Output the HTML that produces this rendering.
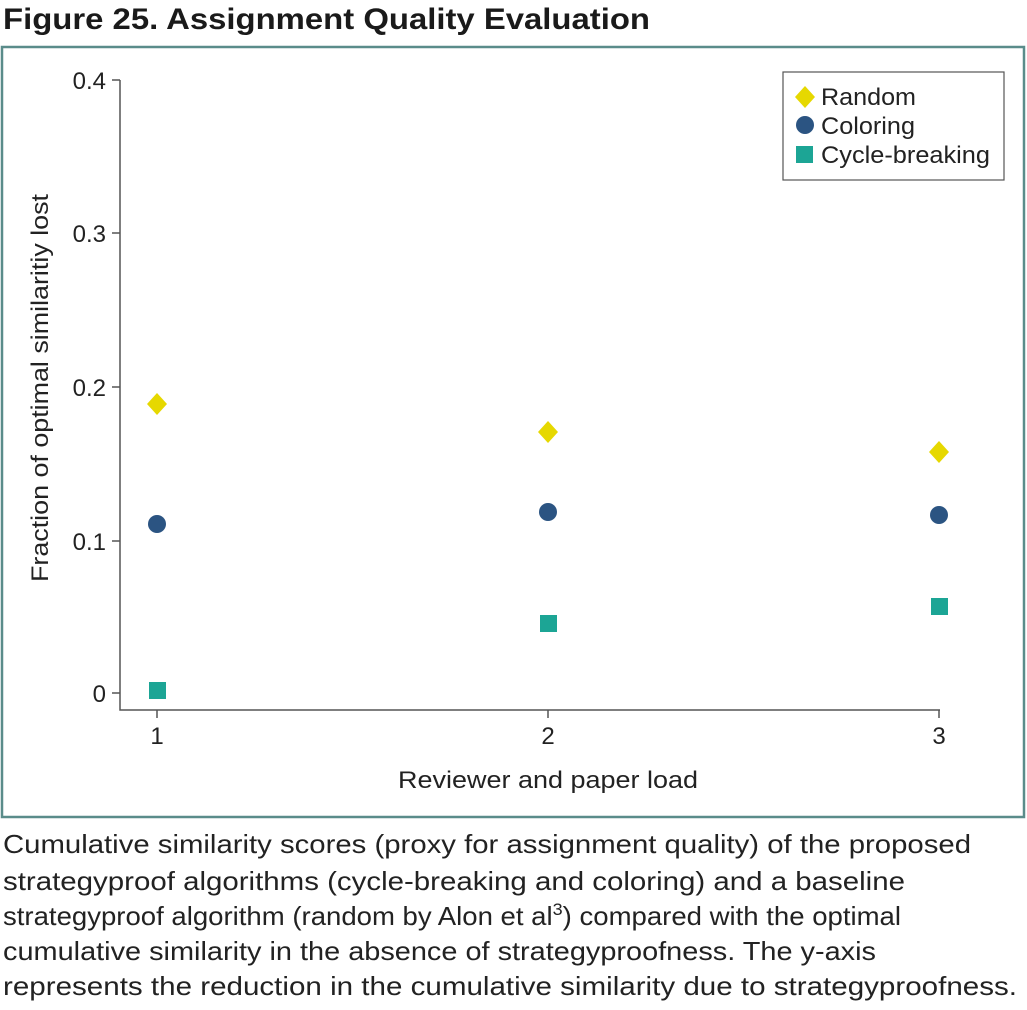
<!DOCTYPE html>
<html><head><meta charset="utf-8"><style>
html,body{margin:0;padding:0;background:#fff;}
svg{display:block;font-family:"Liberation Sans",Arial,sans-serif;}
</style></head><body>
<svg width="1027" height="1010" viewBox="0 0 1027 1010" xmlns="http://www.w3.org/2000/svg">
<text x="3" y="29" font-size="30" font-weight="bold" fill="#1a1a1a" textLength="647" lengthAdjust="spacingAndGlyphs">Figure 25. Assignment Quality Evaluation</text>
<rect x="2" y="47" width="1022" height="770" fill="none" stroke="#5a8c8a" stroke-width="2.5"/>
<g stroke="#555" stroke-width="1.5" fill="none">
<path d="M120 80 V710 H940"/>
<path d="M112 80H120M112 233H120M112 387H120M112 541H120M112 693H120"/>
<path d="M157 710V718M548 710V718M939 710V718"/>
</g>
<g font-size="24" fill="#222" text-anchor="end">
<text x="106" y="89">0.4</text>
<text x="106" y="242">0.3</text>
<text x="106" y="396">0.2</text>
<text x="106" y="550">0.1</text>
<text x="106" y="702">0</text>
</g>
<g font-size="24" fill="#222" text-anchor="middle">
<text x="157" y="744">1</text>
<text x="548" y="744">2</text>
<text x="939" y="744">3</text>
<text x="548" y="788" textLength="300" lengthAdjust="spacingAndGlyphs">Reviewer and paper load</text>
</g>
<text transform="translate(48,388) rotate(-90)" font-size="24" fill="#222" text-anchor="middle" textLength="388" lengthAdjust="spacingAndGlyphs">Fraction of optimal similaritiy lost</text>
<rect x="783" y="72" width="221" height="108" fill="#fff" stroke="#555" stroke-width="1.2"/>
<g fill="#e6d800">
<path d="M805 86 L815 97 L805 108 L795 97Z"/>
<path d="M157 393 L167 404 L157 415 L147 404Z"/>
<path d="M548 421 L558 432 L548 443 L538 432Z"/>
<path d="M939 441 L949 452 L939 463 L929 452Z"/>
</g>
<g fill="#2b5482">
<circle cx="805" cy="125" r="9"/>
<circle cx="157" cy="524" r="9"/>
<circle cx="548" cy="512" r="9"/>
<circle cx="939" cy="515" r="9"/>
</g>
<g fill="#1ca595">
<rect x="796" y="146" width="17" height="17"/>
<rect x="149" y="682" width="17" height="17"/>
<rect x="540" y="615" width="17" height="17"/>
<rect x="931" y="598" width="17" height="17"/>
</g>
<g font-size="24" fill="#222">
<text x="821" y="105" textLength="95" lengthAdjust="spacingAndGlyphs">Random</text>
<text x="821" y="134" textLength="94" lengthAdjust="spacingAndGlyphs">Coloring</text>
<text x="821" y="163" textLength="169" lengthAdjust="spacingAndGlyphs">Cycle-breaking</text>
</g>
<g font-size="26" fill="#222">
<text x="3" y="853" textLength="968" lengthAdjust="spacingAndGlyphs">Cumulative similarity scores (proxy for assignment quality) of the proposed</text>
<text x="3" y="890" textLength="902" lengthAdjust="spacingAndGlyphs">strategyproof algorithms (cycle-breaking and coloring) and a baseline</text>
<text x="3" y="925" textLength="898" lengthAdjust="spacingAndGlyphs">strategyproof algorithm (random by Alon et al<tspan font-size="17" dy="-10">3</tspan><tspan dy="10">) compared with the optimal</tspan></text>
<text x="3" y="960" textLength="873" lengthAdjust="spacingAndGlyphs">cumulative similarity in the absence of strategyproofness. The y-axis</text>
<text x="3" y="995" textLength="1014" lengthAdjust="spacingAndGlyphs">represents the reduction in the cumulative similarity due to strategyproofness.</text>
</g>
</svg>
</body></html>
